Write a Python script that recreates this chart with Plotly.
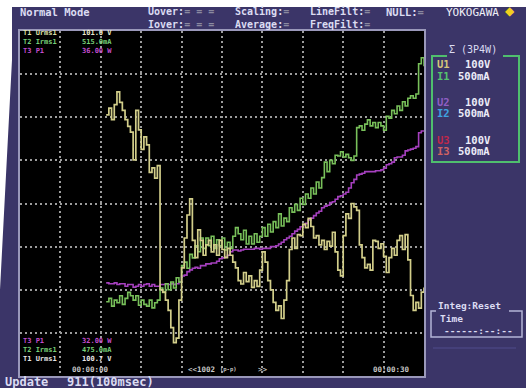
import numpy as np
import plotly.graph_objects as go

start_s = 6.4      # first sample time on the trend (s)
step_s = 0.2       # sample spacing used when reading the traces (s)

time_range_s = [0, 30]
volt_range_V = [100.7, 101.0]     # T1 Urms1 scale (bottom / top)
curr_range_mA = [475.0, 515.0]    # T2 Irms1 scale
power_range_W = [32.0, 36.0]      # T3 P1 scale

voltage_V = [
    100.927, 100.933, 100.923, 100.936, 100.947, 100.938, 100.931, 100.923, 100.917, 100.912,
    100.888, 100.931, 100.914, 100.897, 100.908, 100.901, 100.877, 100.881, 100.872, 100.883,
    100.775, 100.773, 100.766, 100.757, 100.742, 100.729, 100.733, 100.766, 100.794, 100.820,
    100.840, 100.854, 100.818, 100.803, 100.827, 100.818, 100.805, 100.814, 100.818, 100.808,
    100.814, 100.805, 100.818, 100.810, 100.803, 100.811, 100.805, 100.799, 100.794, 100.783,
    100.780, 100.790, 100.782, 100.787, 100.777, 100.783, 100.778, 100.792, 100.808, 100.799,
    100.783, 100.775, 100.764, 100.757, 100.761, 100.750, 100.766, 100.783, 100.810, 100.820,
    100.811, 100.823, 100.822, 100.832, 100.829, 100.837, 100.830, 100.820, 100.822, 100.814,
    100.818, 100.810, 100.817, 100.813, 100.825, 100.808, 100.792, 100.787, 100.822, 100.841,
    100.837, 100.850, 100.847, 100.844, 100.814, 100.803, 100.794, 100.797, 100.792, 100.818,
    100.817, 100.811, 100.815, 100.804, 100.790, 100.803, 100.811, 100.805, 100.818, 100.822,
    100.810, 100.823, 100.801, 100.770, 100.757, 100.764, 100.759, 100.773, 100.777,
]

current_mA = [
    483.6, 484.0, 483.1, 483.8, 483.5, 484.3, 483.3, 484.0, 484.7, 484.3,
    483.8, 484.3, 483.2, 483.8, 483.3, 483.1, 483.8, 482.9, 483.5, 483.8,
    485.2, 484.7, 485.7, 485.0, 485.9, 485.2, 486.4, 485.9, 487.8, 488.2,
    487.5, 489.1, 488.7, 490.1, 489.4, 491.0, 489.8, 491.0, 490.1, 491.2,
    489.8, 490.8, 490.1, 491.0, 489.6, 490.5, 489.8, 491.2, 492.2, 491.5,
    490.8, 491.9, 490.3, 491.2, 490.3, 491.5, 490.5, 491.2, 492.2, 491.2,
    492.6, 491.7, 492.9, 492.2, 493.8, 492.4, 493.3, 492.9, 494.5, 494.0,
    494.9, 494.2, 495.6, 494.9, 496.1, 495.6, 496.8, 496.1, 497.5, 496.8,
    498.0, 499.8, 498.7, 500.0, 499.6, 500.6, 500.5, 501.0, 500.4, 500.7,
    500.3, 500.0, 500.5, 503.8, 504.0, 503.5, 504.2, 504.7, 504.0, 504.4,
    503.8, 504.4, 504.0, 503.5, 505.1, 504.9, 505.8, 505.4, 506.3, 505.8,
    506.8, 506.3, 507.2, 507.5, 507.2, 507.7, 511.2, 511.9, 510.9,
]

power_W = [
    33.08, 33.07, 33.07, 33.08, 33.06, 33.07, 33.07, 33.04, 33.06, 33.06,
    33.03, 33.04, 33.06, 33.04, 33.06, 33.07, 33.04, 33.06, 33.04, 33.04,
    33.06, 33.06, 33.07, 33.06, 33.07, 33.06, 33.07, 33.09, 33.16, 33.17,
    33.21, 33.23, 33.25, 33.26, 33.25, 33.28, 33.28, 33.30, 33.30, 33.31,
    33.31, 33.33, 33.36, 33.37, 33.38, 33.40, 33.44, 33.46, 33.46, 33.45,
    33.46, 33.47, 33.47, 33.47, 33.47, 33.48, 33.48, 33.47, 33.48, 33.48,
    33.48, 33.50, 33.50, 33.51, 33.53, 33.55, 33.58, 33.60, 33.62, 33.65,
    33.68, 33.70, 33.73, 33.75, 33.77, 33.81, 33.83, 33.86, 33.89, 33.91,
    33.95, 33.97, 33.98, 34.01, 34.02, 34.05, 34.08, 34.09, 34.11, 34.13,
    34.18, 34.24, 34.28, 34.33, 34.34, 34.35, 34.37, 34.37, 34.37, 34.37,
    34.38, 34.38, 34.39, 34.41, 34.45, 34.46, 34.48, 34.53, 34.54, 34.54,
    34.56, 34.61, 34.62, 34.63, 34.64, 34.66, 34.82, 34.84, 34.85,
]

top_labels = [("T1 Urms1", "101.0 V"), ("T2 Irms1", "515.0mA"), ("T3 P1", "36.00 W")]
bottom_labels = [("T3 P1", "32.00 W"), ("T2 Irms1", "475.0mA"), ("T1 Urms1", "100.7 V")]
time_start_label = "00:00:00"
time_end_label = "00:00:30"
points_label = "1002"
update_label = ("Update", "911(100msec)")
ranges_rows = [("U1", "100V"), ("I1", "500mA"), ("U2", "100V"),
               ("I2", "500mA"), ("U3", "100V"), ("I3", "500mA")]

# ---------------- style ----------------
W, H = 526, 388
PL, PT, PW, PH = 20, 31, 404, 345
PANEL = "#3b3568"
YELLOW = "#d2ce8a"
GREEN = "#78c05a"
PURPLE = "#a640bf"
GRID = "#9c9c9c"
TXT = "#dcdcf2"
GREYEQ = "#8a8aa0"
MONO = "DejaVu Sans Mono"


def fx(x):
    return (x - PL) / PW


def fy(y):
    return (PT + PH - y) / PH


def times(series):
    return start_s + step_s * np.arange(len(series))


fig = go.Figure()
fig.add_trace(go.Scatter(x=times(power_W), y=power_W, yaxis="y", mode="lines",
                         line=dict(color=PURPLE, width=1.6, shape="hv"), name="T3 P1"))
fig.add_trace(go.Scatter(x=times(current_mA), y=current_mA, yaxis="y2", mode="lines",
                         line=dict(color=GREEN, width=1.6, shape="hv"), name="T2 Irms1"))
fig.add_trace(go.Scatter(x=times(voltage_V), y=voltage_V, yaxis="y3", mode="lines",
                         line=dict(color=YELLOW, width=1.7, shape="hv"), name="T1 Urms1"))

ann = []


def text(x, y, s, size=10, color=TXT, bold=False, family=MONO, anchor="left"):
    ann.append(dict(x=fx(x), y=fy(y), xref="paper", yref="paper", showarrow=False,
                    xanchor=anchor, yanchor="middle", borderpad=0, align="left",
                    text=("<b>%s</b>" % s) if bold else s,
                    font=dict(family=family, size=size, color=color)))


def span(s, c):
    return "<span style='color:%s'>%s</span>" % (c, s)


# header (two-row columns are written as one block each)
text(19, 12.5, "Normal Mode", 10.5, bold=True)
text(147, 17.5, "Uover:" + span("= = =", GREYEQ) + "<br>Iover:" + span("= = =", GREYEQ),
     10, bold=True)
text(234, 17.5, "Scaling:" + span("=", GREYEQ) + "<br>Average:" + span("=", GREYEQ),
     10, bold=True)
text(309, 17.5, "LineFilt:" + span("=", GREYEQ) + "<br>FreqFilt:" + span("=", GREYEQ),
     10, bold=True)
text(385, 12.5, "NULL:" + span("=", GREYEQ), 10.5, bold=True)
text(445, 12.5, "YOKOGAWA", 11, color="#f0f0f8")
text(504, 11, "◆", 12, color="#f0d020", family="DejaVu Sans")

# in-plot labels (one block per column so the rows keep their spacing)
row_cols = {"T1": "#dfe0a8", "T2": "#78d078", "T3": "#c24ccc"}
val_cols = {"T1": "#e8e8cc", "T2": "#78d078", "T3": "#c24ccc"}
text(22, 42, "<br>".join(span(n, row_cols[n[:2]]) for n, v in top_labels), 7, bold=True)
text(81, 42, "<br>".join(span(v, val_cols[n[:2]]) for n, v in top_labels), 7, bold=True)
bot_cols = {"T1": "#e6e6e6", "T2": "#78d078", "T3": "#c24ccc"}
text(22, 350, "<br>".join(span(n, bot_cols[n[:2]]) for n, v in bottom_labels), 7, bold=True)
text(81, 350, "<br>".join(span(v, bot_cols[n[:2]]) for n, v in bottom_labels), 7, bold=True)

text(71, 369, time_start_label, 7.5, color="#c8c8c8", bold=True)
text(372, 369.5, time_end_label, 7.5, color="#c8c8c8", bold=True)
text(187, 369, "&lt;&lt;" + points_label, 7.5, color="#c8c8c8", bold=True)
text(219, 369.5, "(p-p)", 5.5, color="#c8c8c8", bold=True)
text(257, 369, "&gt;&gt;", 7.5, color="#c8c8c8", bold=True)

# bottom bar
text(4, 382, update_label[0], 12, bold=True)
text(66, 382, update_label[1], 12, bold=True)

# right panel
text(473, 50, "Σ (3P4W)", 10, anchor="center")
name_cols = ["#d6c67a", "#55c46e", "#8f5ec4", "#3fa3e2", "#c0284a", "#d06262"]
ys = [64, 75.5, 102, 113.5, 139.5, 151]
for (nm, val), c, yy in zip(ranges_rows, name_cols, ys):
    text(436, yy, nm, 10.5, color=c, bold=True)
    text(457 if val.endswith("mA") else 464, yy, val, 10.5, color="#ececf8", bold=True)

text(437, 305, "Integ:Reset", 9.5, bold=True)
text(439, 318, "Time", 9.5, bold=True)
text(443, 330, "------:--:--", 9.5, bold=True)


def path(points):
    return "M " + " L ".join("%.5f,%.5f" % (fx(a), fy(b)) for a, b in points)


shapes = [
    # photo margin (white) at top / left
    dict(type="path", xref="paper", yref="paper", layer="above",
         path=path([(0, 0), (W, 0), (W, 7), (12, 7), (12, 60), (0, 290)]) + " Z",
         fillcolor="white", line=dict(width=0)),
    # plot frame
    dict(type="rect", xref="paper", yref="paper", layer="above",
         x0=fx(PL - 1), x1=fx(PL + PW + 1), y0=fy(PT + PH + 1), y1=fy(PT - 1),
         line=dict(color="#9a98ba", width=2)),
    # sigma box
    dict(type="path", xref="paper", yref="paper", layer="above",
         path=path([(447, 56), (432, 56), (432, 162), (519, 162), (519, 56), (503, 56)]),
         line=dict(color="#4fbf6e", width=2)),
    # integ box
    dict(type="path", xref="paper", yref="paper", layer="above",
         path=path([(436, 311), (431, 311), (431, 337), (522, 337), (522, 311), (509, 311)]),
         line=dict(color="#b4b4d6", width=1.5)),
    dict(type="line", xref="paper", yref="paper", layer="above",
         x0=fx(433), x1=fx(516), y0=fy(348), y1=fy(348),
         line=dict(color="#4a4580", width=1.5)),
]

grid = dict(showgrid=True, gridcolor=GRID, gridwidth=1.5, griddash="2px,3px",
            showticklabels=False, zeroline=False, showline=False, ticks="")

fig.update_layout(
    width=W, height=H, autosize=False,
    margin=dict(l=PL, r=W - PL - PW, t=PT, b=H - PT - PH, pad=0),
    paper_bgcolor=PANEL, plot_bgcolor="black",
    showlegend=False,
    xaxis=dict(range=time_range_s, tick0=0, dtick=3, **grid),
    yaxis=dict(range=power_range_W, tick0=power_range_W[0],
               dtick=(power_range_W[1] - power_range_W[0]) / 8, **grid),
    yaxis2=dict(range=curr_range_mA, overlaying="y", visible=False),
    yaxis3=dict(range=volt_range_V, overlaying="y", visible=False),
    annotations=ann, shapes=shapes,
)

fig.write_html("out.html", config={"displayModeBar": False})
